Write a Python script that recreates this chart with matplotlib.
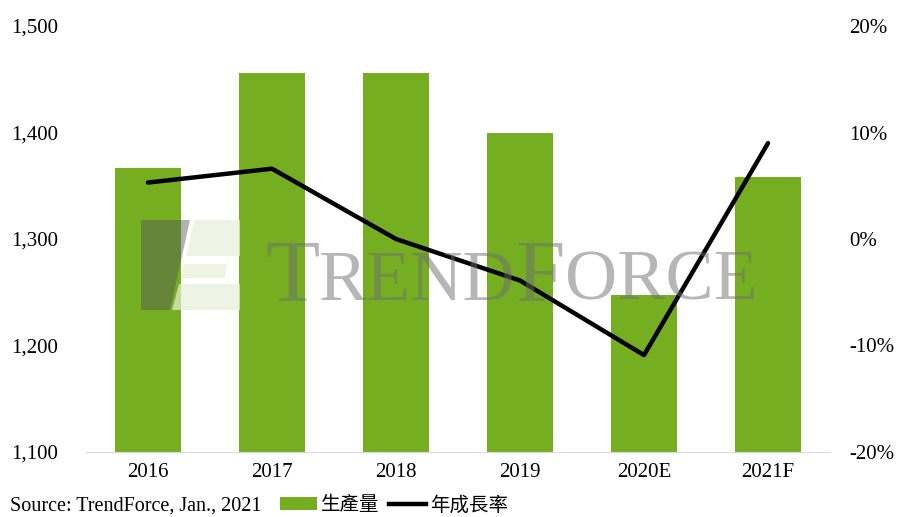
import matplotlib
matplotlib.use("Agg")
import matplotlib.pyplot as plt
from matplotlib.patches import Polygon, Patch
from matplotlib.lines import Line2D
from matplotlib.ticker import FuncFormatter

# datos
years = ["2016", "2017", "2018", "2019", "2020E", "2021F"]
production = [1367, 1456, 1456, 1400, 1247, 1358]
growth = [5.3, 6.6, 0.0, -3.9, -10.9, 9.0]

bar_color = "#75AE21"
serif = "Liberation Serif"
W, H = 899, 517

fig = plt.figure(figsize=(W / 100, H / 100), dpi=100)
ax = fig.add_axes([86 / W, 1 - 452 / H, (830 - 86) / W, (452 - 26) / H])
ax2 = ax.twinx()

x = list(range(len(years)))
ax.bar(x, production, width=0.54, color=bar_color, zorder=2)
ax.set_ylim(1100, 1500)
ax.set_xlim(-0.5, len(years) - 0.5)
ax.set_yticks([1100, 1200, 1300, 1400, 1500])
ax.yaxis.set_major_formatter(FuncFormatter(lambda v, p: f"{int(v):,}"))
ax.set_xticks(x)
ax.set_xticklabels(years)

ax2.plot(x, growth, color="black", lw=3.2, solid_capstyle="round", zorder=5)
ax2.set_ylim(-20, 20)
ax2.set_yticks([-20, -10, 0, 10, 20])
ax2.yaxis.set_major_formatter(FuncFormatter(lambda v, p: f"{int(v)}%"))

for a in (ax, ax2):
    for s in a.spines.values():
        s.set_visible(False)
    a.tick_params(length=0, labelsize=15)
    for lbl in a.get_xticklabels() + a.get_yticklabels():
        lbl.set_fontfamily(serif)
ax.spines["bottom"].set_visible(True)
ax.spines["bottom"].set_color("#d9d9d9")
ax.tick_params(axis="y", pad=54)
ax.tick_params(axis="x", pad=8)
ax2.tick_params(axis="y", pad=14)
for lbl in ax.get_yticklabels():
    lbl.set_horizontalalignment("left")

# marca de agua
def fx(px):
    return px / W

def fy(py):
    return 1 - py / H

dark = Polygon([(fx(141), fy(220)), (fx(190), fy(220)), (fx(170), fy(310)),
                (fx(141), fy(310))], closed=True, transform=fig.transFigure,
               facecolor="#555555", alpha=0.45, zorder=10, edgecolor="none")
light1 = Polygon([(fx(194), fy(220)), (fx(240), fy(220)), (fx(240), fy(256)),
                  (fx(186), fy(256))], closed=True, transform=fig.transFigure,
                 facecolor="#e8f0d8", alpha=0.7, zorder=10, edgecolor="none")
light2 = Polygon([(fx(184), fy(264)), (fx(228), fy(264)), (fx(225), fy(278)),
                  (fx(181), fy(278))], closed=True, transform=fig.transFigure,
                 facecolor="#e8f0d8", alpha=0.7, zorder=10, edgecolor="none")
light3 = Polygon([(fx(179), fy(284)), (fx(240), fy(284)), (fx(240), fy(310)),
                  (fx(172), fy(310))], closed=True, transform=fig.transFigure,
                 facecolor="#e8f0d8", alpha=0.7, zorder=10, edgecolor="none")
for p in (dark, light1, light2, light3):
    fig.add_artist(p)

renderer = fig.canvas.get_renderer()
xpos = 265
for txt, size in [("T", 64), ("REND", 52), ("F", 64), ("ORCE", 52)]:
    t = fig.text(fx(xpos), fy(300), txt, fontsize=size, family=serif,
                 color="#6e6e6e", alpha=0.5, va="baseline", ha="left", zorder=11)
    bb = t.get_window_extent(renderer)
    xpos += bb.width

# pie
fig.text(10 / W, fy(506), "Source: TrendForce, Jan., 2021", fontsize=14.5,
         family=serif, va="center", ha="left")
handles = [Patch(facecolor=bar_color, label="生產量"),
           Line2D([0], [0], color="black", lw=3.2, label="年成長率")]
fig.legend(handles=handles, loc="center left", bbox_to_anchor=(280 / W, fy(505)),
           ncol=2, frameon=False, handlelength=1.9, handleheight=0.6,
           handletextpad=0.2, columnspacing=0.5, borderpad=0, borderaxespad=0,
           prop={"family": ["Noto Sans CJK TC", "DejaVu Sans"], "size": 14})

fig.savefig("out.png", dpi=100)
